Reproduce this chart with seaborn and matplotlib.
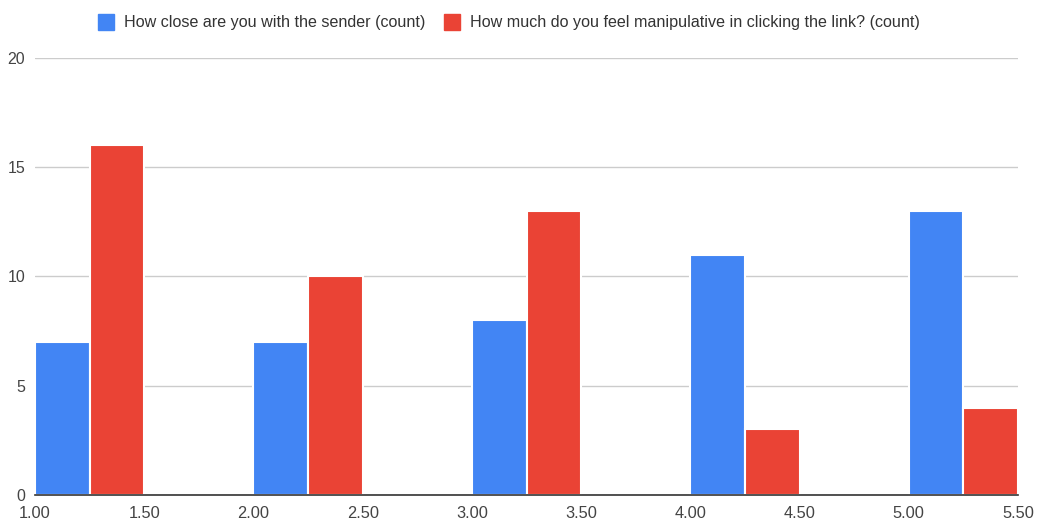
import matplotlib
matplotlib.use("Agg")
import matplotlib.pyplot as plt
import seaborn as sns
import pandas as pd
from matplotlib.lines import Line2D

# Histogram bin groups (each group spans 1.0 units, first half of each is drawn)
bin_centers = [1.25, 2.25, 3.25, 4.25, 5.25]
close_counts = [7, 7, 8, 11, 13]
manip_counts = [16, 10, 13, 3, 4]
series_names = ["How close are you with the sender (count)",
                "How much do you feel manipulative in clicking the link? (count)"]
colors = ["#4285F4", "#EA4335"]
x_ticks = [1.0, 1.5, 2.0, 2.5, 3.0, 3.5, 4.0, 4.5, 5.0, 5.5]
y_ticks = [0, 5, 10, 15, 20]

df = pd.DataFrame({
    "x": bin_centers * 2,
    "count": close_counts + manip_counts,
    "series": [series_names[0]] * len(bin_centers) + [series_names[1]] * len(bin_centers),
})

sns.set_theme(style="white")
plt.rcParams["font.family"] = ["Liberation Sans", "DejaVu Sans"]

fig = plt.figure(figsize=(10.37, 5.21), dpi=100)
ax = fig.add_axes([0.0338, 0.0499, 0.9479, 0.8388])

sns.barplot(data=df, x="x", y="count", hue="series", native_scale=True,
            palette=colors, saturation=1, width=0.5, gap=0, dodge=True,
            edgecolor="white", linewidth=1.5, ax=ax, legend=False, zorder=3)

ax.set_xlim(1.0, 5.5)
ax.set_ylim(0, 20)
ax.set_xticks(x_ticks)
ax.set_xticklabels([f"{t:.2f}" for t in x_ticks])
ax.set_yticks(y_ticks)
ax.set_yticklabels([str(t) for t in y_ticks])
ax.set_xlabel("")
ax.set_ylabel("")

ax.yaxis.grid(True, color="#cccccc", linewidth=1, zorder=0)
ax.xaxis.grid(False)
for s in ["top", "right", "left"]:
    ax.spines[s].set_visible(False)
ax.spines["bottom"].set_color("#333333")
ax.spines["bottom"].set_linewidth(1.2)
ax.spines["bottom"].set_zorder(4)

ax.tick_params(axis="y", length=0, pad=7, labelsize=11.5, labelcolor="#444444")
ax.tick_params(axis="x", length=0, pad=8, labelsize=11.8, labelcolor="#444444")

handles = [Line2D([0], [0], marker="s", color="none", markerfacecolor=c,
                  markeredgecolor=c, markersize=11.5) for c in colors]
fig.legend(handles, series_names, loc="center", bbox_to_anchor=(0.49, 0.956),
           ncol=2, frameon=False, fontsize=11.6, handletextpad=0.5,
           columnspacing=1.1, labelcolor="#333333", handlelength=1.2)

fig.savefig("out.png", dpi=100)
